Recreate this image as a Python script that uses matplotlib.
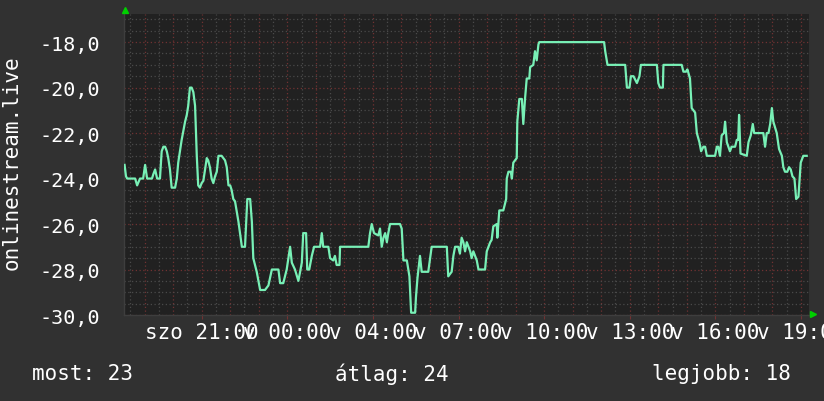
import matplotlib.pyplot as plt
import numpy as np
from matplotlib.lines import Line2D

# time in hours since Saturday 21:00
hours = [-2.70, -2.65, -2.61, -2.33, -2.26, -2.16, -2.05, -1.98, -1.91, -1.74,
         -1.69, -1.63, -1.56, -1.46, -1.40, -1.34, -1.28, -1.22, -1.17, -1.11,
         -1.05, -0.93, -0.87, -0.82, -0.76, -0.70, -0.64, -0.58, -0.52, -0.47,
         -0.41, -0.35, -0.29, -0.23, -0.17, -0.12, -0.06, 0.00, 0.06, 0.12,
         0.18, 0.23, 0.29, 0.35, 0.41, 0.47, 0.53, 0.59, 0.70, 0.76,
         0.82, 0.88, 0.94, 1.00, 1.05, 1.11, 1.17, 1.29, 1.41, 1.52,
         1.56, 1.60, 1.70, 1.76, 1.81, 1.93, 2.05, 2.22, 2.34, 2.46,
         2.69, 2.75, 2.86, 2.98, 3.10, 3.16, 3.27, 3.39, 3.45, 3.51,
         3.56, 3.66, 3.70, 3.77, 3.86, 3.94, 4.15, 4.21, 4.26, 4.44,
         4.50, 4.61, 4.67, 4.73, 4.83, 4.85, 5.84, 5.90, 5.96, 6.04,
         6.19, 6.25, 6.31, 6.37, 6.43, 6.49, 6.54, 6.60, 6.95, 7.01,
         7.07, 7.19, 7.28, 7.34, 7.48, 7.51, 7.56, 7.65, 7.71, 7.94,
         8.06, 8.59, 8.64, 8.76, 8.82, 8.88, 8.99, 9.05, 9.11, 9.17,
         9.23, 9.29, 9.35, 9.41, 9.46, 9.52, 9.64, 9.70, 9.93, 9.99,
         10.05, 10.11, 10.16, 10.22, 10.34, 10.36, 10.43, 10.57, 10.67, 10.69,
         10.75, 10.83, 10.87, 10.92, 11.04, 11.06, 11.13, 11.22, 11.27, 11.33,
         11.39, 11.48, 11.51, 11.62, 11.68, 11.74, 11.80, 11.83, 14.10, 14.14,
         14.22, 14.84, 14.90, 14.99, 15.04, 15.13, 15.25, 15.34, 15.39, 15.95,
         16.00, 16.06, 16.16, 16.18, 16.82, 16.88, 16.97, 17.02, 17.11, 17.17,
         17.29, 17.35, 17.44, 17.50, 17.58, 17.64, 17.70, 17.99, 18.05, 18.10,
         18.16, 18.22, 18.30, 18.34, 18.40, 18.51, 18.57, 18.69, 18.75, 18.80,
         18.83, 18.88, 19.10, 19.16, 19.24, 19.31, 19.36, 19.68, 19.74, 19.80,
         19.86, 19.92, 19.98, 20.03, 20.15, 20.23, 20.33, 20.38, 20.44, 20.52,
         20.58, 20.64, 20.70, 20.77, 20.83, 20.91, 20.99, 21.08, 21.20]
values = [-23.4, -23.9, -24.0, -24.0, -24.3, -24.0, -24.0, -23.4, -24.0, -24.0,
          -23.8, -23.6, -24.0, -24.0, -22.8, -22.6, -22.6, -22.8, -23.1, -23.6,
          -24.4, -24.4, -24.0, -23.3, -22.8, -22.3, -21.9, -21.5, -21.2, -20.8,
          -20.0, -20.0, -20.2, -20.8, -23.0, -24.3, -24.4, -24.2, -24.1, -23.6,
          -23.1, -23.2, -23.5, -24.0, -24.2, -23.9, -23.7, -23.0, -23.0, -23.1,
          -23.2, -23.5, -24.3, -24.3, -24.5, -24.9, -25.0, -25.9, -27.0, -27.0,
          -25.9, -24.9, -24.9, -25.9, -27.5, -28.1, -28.9, -28.9, -28.7, -28.0,
          -28.0, -28.6, -28.6, -28.0, -27.0, -27.7, -28.0, -28.5, -28.1, -27.7,
          -26.4, -26.4, -28.0, -28.0, -27.4, -27.0, -27.0, -26.4, -27.0, -27.0,
          -27.5, -27.6, -27.4, -27.8, -27.8, -27.0, -27.0, -26.4, -26.0, -26.4,
          -26.5, -26.2, -27.0, -26.6, -26.4, -26.8, -26.4, -26.0, -26.0, -26.2,
          -27.6, -27.6, -28.3, -29.9, -29.9, -29.2, -28.4, -27.4, -28.1, -28.1,
          -27.0, -27.0, -28.3, -28.1, -27.4, -27.0, -27.0, -27.3, -26.6, -26.8,
          -27.2, -26.8, -27.0, -27.2, -27.5, -27.2, -27.6, -28.0, -28.0, -27.2,
          -27.0, -26.8, -26.7, -26.1, -26.0, -26.6, -25.4, -25.4, -24.9, -24.0,
          -23.7, -23.7, -24.0, -23.3, -23.1, -21.5, -20.5, -20.5, -21.6, -20.5,
          -19.6, -19.6, -19.1, -19.0, -18.4, -18.8, -18.1, -18.0, -18.0, -18.4,
          -19.0, -19.0, -20.0, -20.0, -19.5, -19.5, -19.8, -19.5, -19.0, -19.0,
          -19.8, -20.0, -20.0, -19.0, -19.0, -19.3, -19.3, -19.2, -19.6, -20.9,
          -21.1, -22.0, -22.4, -22.8, -22.6, -22.6, -23.0, -23.0, -22.6, -22.6,
          -23.0, -22.1, -22.0, -21.5, -22.4, -22.8, -22.6, -22.6, -22.3, -22.3,
          -21.2, -22.9, -23.0, -22.4, -22.1, -21.6, -22.0, -22.0, -22.6, -22.0,
          -22.0, -21.6, -20.9, -21.5, -22.0, -22.7, -23.0, -23.5, -23.7, -23.7,
          -23.5, -23.6, -23.9, -24.0, -24.9, -24.8, -23.3, -23.0, -23.0]

tick_hours = [0, 3, 6, 9, 12, 15, 18, 21]
tick_labels = ["szo 21:00", "v 00:00", "v 04:00", "v 07:00",
               "v 10:00", "v 13:00", "v 16:00", "v 19:00"]
ytick_vals = [-30, -28, -26, -24, -22, -20, -18]
ytick_labels = ["-30,0", "-28,0", "-26,0", "-24,0", "-22,0", "-20,0", "-18,0"]
y_title = "onlinestream.live"
stats = ["most: 23", "átlag: 24", "legjobb: 18"]

BG = "#313131"
PLOT_BG = "#212121"
LINE = "#78f0b6"
RED = "#713232"
GRAY = "#4a4a4a"
MONO = "DejaVu Sans Mono"

fig = plt.figure(figsize=(8.24, 4.02), dpi=100, facecolor=BG)
ax = fig.add_axes([124 / 824, 86 / 402, 685 / 824, 301.3 / 402])
ax.set_facecolor(PLOT_BG)

x0, x1 = -2.72, 21.28
y0, y1 = -30, -16.75

# grid: minor every half hour / 0.5, major every hour / 2
dots = (0, (1, 2))
for h in np.arange(-2.5, 21.3, 0.5):
    major = float(h).is_integer()
    ax.axvline(h, color=RED if major else GRAY, lw=0.9, ls=dots, zorder=1)
for v in np.arange(-30, -16.7, 0.5):
    major = (v % 2 == 0)
    ax.axhline(v, color=RED if major else GRAY, lw=0.9, ls=dots, zorder=1)

ax.plot(hours, values, color=LINE, lw=1.6, zorder=3)

ax.set_xlim(x0, x1)
ax.set_ylim(y0, y1)
ax.set_xticks(tick_hours)
ax.set_xticklabels(tick_labels, family=MONO, fontsize=15, color="white")
ax.set_yticks(ytick_vals)
ax.set_yticklabels(ytick_labels, family=MONO, fontsize=14.5, color="white")
ax.tick_params(axis="x", length=3, color=RED, pad=2)
ax.tick_params(axis="y", length=0, pad=17)
for lab in ax.get_xticklabels():
    lab.set_clip_on(False)

for side in ["top", "right"]:
    ax.spines[side].set_visible(False)
for side in ["left", "bottom"]:
    ax.spines[side].set_color("#3e3e3e")
    ax.spines[side].set_linewidth(1)

fig.text(12 / 824, 1 - 163 / 402, y_title, rotation=90, ha="center",
         va="center", family=MONO, fontsize=15, color="white")

fig.text(32 / 824, 1 - 374 / 402, stats[0], ha="left", va="center",
         family=MONO, fontsize=15, color="white")
fig.text(392 / 824, 1 - 374 / 402, stats[1], ha="center", va="center",
         family=MONO, fontsize=15, color="white")
fig.text(791 / 824, 1 - 374 / 402, stats[2], ha="right", va="center",
         family=MONO, fontsize=15, color="white")

# little green arrow heads at the axis ends
fig.add_artist(Line2D([125 / 824], [1 - 10.5 / 402], marker="^", color="#00d000",
                      markersize=5, transform=fig.transFigure))
fig.add_artist(Line2D([813 / 824], [1 - 315 / 402], marker=">", color="#00d000",
                      markersize=5, transform=fig.transFigure))

fig.savefig("out.png", dpi=100, facecolor=BG)
